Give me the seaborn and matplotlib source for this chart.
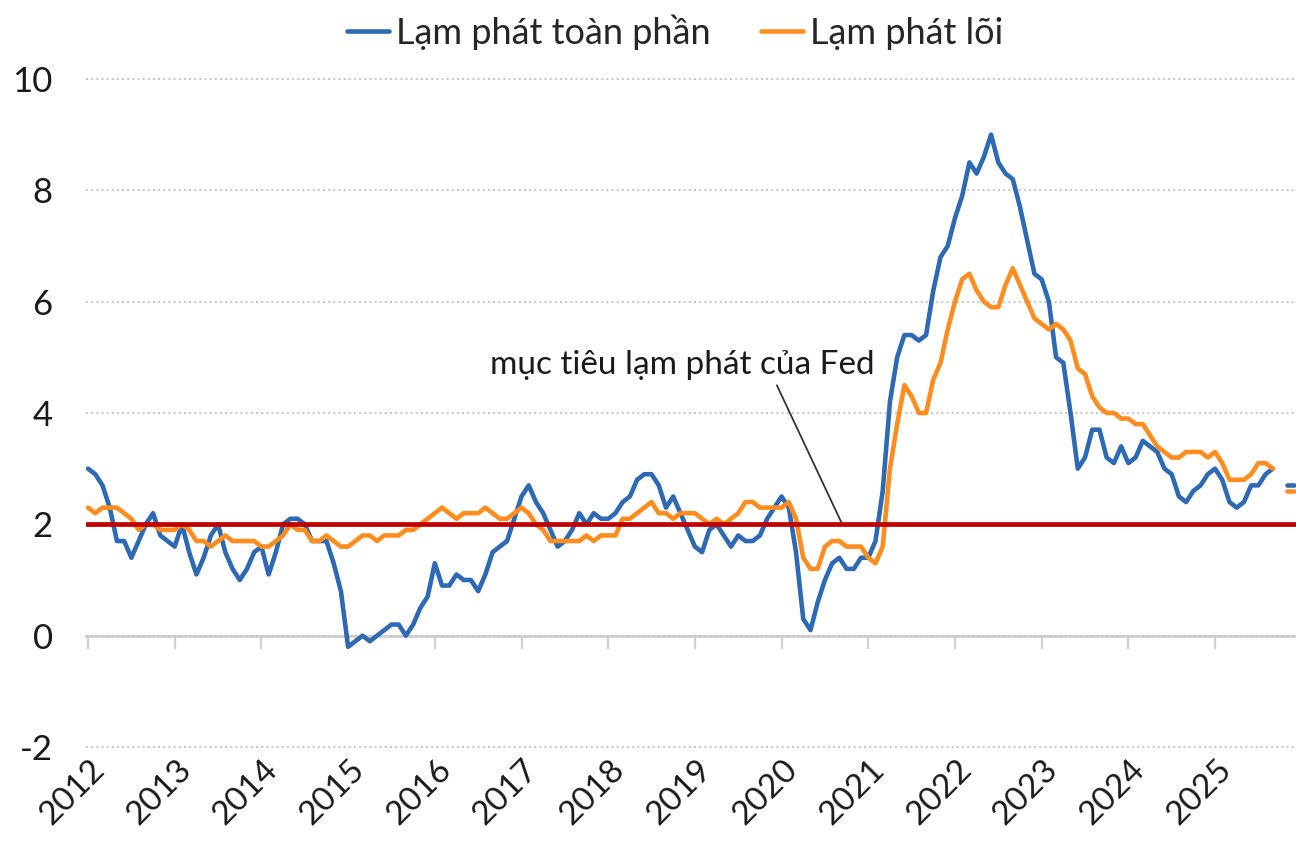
import numpy as np
import pandas as pd
import seaborn as sns
import matplotlib.pyplot as plt
from matplotlib.transforms import ScaledTranslation

# US CPI, % y/y, monthly Jan 2012 - Dec 2025 (Oct 2025 not published)
headline = [
    3.0, 2.9, 2.7, 2.3, 1.7, 1.7, 1.4, 1.7, 2.0, 2.2, 1.8, 1.7,      # 2012
    1.6, 2.0, 1.5, 1.1, 1.4, 1.8, 2.0, 1.5, 1.2, 1.0, 1.2, 1.5,      # 2013
    1.6, 1.1, 1.5, 2.0, 2.1, 2.1, 2.0, 1.7, 1.7, 1.7, 1.3, 0.8,      # 2014
    -0.2, -0.1, 0.0, -0.1, 0.0, 0.1, 0.2, 0.2, 0.0, 0.2, 0.5, 0.7,   # 2015
    1.3, 0.9, 0.9, 1.1, 1.0, 1.0, 0.8, 1.1, 1.5, 1.6, 1.7, 2.1,      # 2016
    2.5, 2.7, 2.4, 2.2, 1.9, 1.6, 1.7, 1.9, 2.2, 2.0, 2.2, 2.1,      # 2017
    2.1, 2.2, 2.4, 2.5, 2.8, 2.9, 2.9, 2.7, 2.3, 2.5, 2.2, 1.9,      # 2018
    1.6, 1.5, 1.9, 2.0, 1.8, 1.6, 1.8, 1.7, 1.7, 1.8, 2.1, 2.3,      # 2019
    2.5, 2.3, 1.5, 0.3, 0.1, 0.6, 1.0, 1.3, 1.4, 1.2, 1.2, 1.4,      # 2020
    1.4, 1.7, 2.6, 4.2, 5.0, 5.4, 5.4, 5.3, 5.4, 6.2, 6.8, 7.0,      # 2021
    7.5, 7.9, 8.5, 8.3, 8.6, 9.0, 8.5, 8.3, 8.2, 7.7, 7.1, 6.5,      # 2022
    6.4, 6.0, 5.0, 4.9, 4.0, 3.0, 3.2, 3.7, 3.7, 3.2, 3.1, 3.4,      # 2023
    3.1, 3.2, 3.5, 3.4, 3.3, 3.0, 2.9, 2.5, 2.4, 2.6, 2.7, 2.9,      # 2024
    3.0, 2.8, 2.4, 2.3, 2.4, 2.7, 2.7, 2.9, 3.0, np.nan, 2.7, 2.7,   # 2025
]
core = [
    2.3, 2.2, 2.3, 2.3, 2.3, 2.2, 2.1, 1.9, 2.0, 2.0, 1.9, 1.9,
    1.9, 2.0, 1.9, 1.7, 1.7, 1.6, 1.7, 1.8, 1.7, 1.7, 1.7, 1.7,
    1.6, 1.6, 1.7, 1.8, 2.0, 1.9, 1.9, 1.7, 1.7, 1.8, 1.7, 1.6,
    1.6, 1.7, 1.8, 1.8, 1.7, 1.8, 1.8, 1.8, 1.9, 1.9, 2.0, 2.1,
    2.2, 2.3, 2.2, 2.1, 2.2, 2.2, 2.2, 2.3, 2.2, 2.1, 2.1, 2.2,
    2.3, 2.2, 2.0, 1.9, 1.7, 1.7, 1.7, 1.7, 1.7, 1.8, 1.7, 1.8,
    1.8, 1.8, 2.1, 2.1, 2.2, 2.3, 2.4, 2.2, 2.2, 2.1, 2.2, 2.2,
    2.2, 2.1, 2.0, 2.1, 2.0, 2.1, 2.2, 2.4, 2.4, 2.3, 2.3, 2.3,
    2.3, 2.4, 2.1, 1.4, 1.2, 1.2, 1.6, 1.7, 1.7, 1.6, 1.6, 1.6,
    1.4, 1.3, 1.6, 3.0, 3.8, 4.5, 4.3, 4.0, 4.0, 4.6, 4.9, 5.5,
    6.0, 6.4, 6.5, 6.2, 6.0, 5.9, 5.9, 6.3, 6.6, 6.3, 6.0, 5.7,
    5.6, 5.5, 5.6, 5.5, 5.3, 4.8, 4.7, 4.3, 4.1, 4.0, 4.0, 3.9,
    3.9, 3.8, 3.8, 3.6, 3.4, 3.3, 3.2, 3.2, 3.3, 3.3, 3.3, 3.2,
    3.3, 3.1, 2.8, 2.8, 2.8, 2.9, 3.1, 3.1, 3.0, np.nan, 2.6, 2.6,
]
series_names = ['Lạm phát toàn phần', 'Lạm phát lõi']
years = list(range(2012, 2026))
y_ticks = [-2, 0, 2, 4, 6, 8, 10]
fed_target = 2
target_label = 'mục tiêu lạm phát của Fed'

sns.set_style('white')
plt.rcParams['font.family'] = ['Lato', 'DejaVu Sans']
plt.rcParams['axes.unicode_minus'] = False

months = pd.date_range('2012-01-01', '2025-12-01', freq='MS')
df = pd.DataFrame({'t': months.year + (months.month - 1) / 12,
                   series_names[0]: headline, series_names[1]: core})
# break the lines where a month is missing
df['segment'] = df[series_names[0]].isna().cumsum()
long = df.melt(id_vars=['t', 'segment'], var_name='series', value_name='value').dropna()

blue, orange, red = '#2E69B4', '#FF8C1E', '#C00000'
ylim = (-2.05, 10.05)

fig = plt.figure(figsize=(12.96, 8.46), dpi=100)
ax = fig.add_axes([0.0664, 0.1137, 0.9336, 0.7963])

sns.lineplot(data=long, x='t', y='value', hue='series', units='segment',
             estimator=None, palette=[blue, orange], linewidth=3.3, ax=ax)
ax.axhline(fed_target, color=red, lw=3.4, zorder=5)

ax.set_xlim(2011.977, 2025.934)
ax.set_ylim(*ylim)
ax.set_yticks(y_ticks)
ax.set_xticks(years)
ax.set_xlabel('')
ax.set_ylabel('')
ax.grid(axis='y', ls=':', color='#c4c4c4', lw=1.4)
for s in ax.spines.values():
    s.set_visible(False)

ax.tick_params(axis='y', length=0, pad=24, labelsize=25, labelcolor='#1a1a1a')
ax.tick_params(axis='x', length=0, pad=3, labelsize=24, labelcolor='#1a1a1a')
for lab in ax.get_xticklabels():
    lab.set_rotation(45)
    lab.set_ha('right')
    lab.set_rotation_mode('anchor')
    lab.set_transform(lab.get_transform() + ScaledTranslation(0.01, 0, fig.dpi_scale_trans))

# zero line with year ticks
sec = ax.secondary_xaxis((0 - ylim[0]) / (ylim[1] - ylim[0]))
sec.set_xticks(years)
sec.tick_params(length=9, width=1.6, color='#d0d0d0', labelbottom=False, direction='out')
sec.spines['bottom'].set_color('#d0d0d0')
sec.spines['bottom'].set_linewidth(2)

ax.annotate(target_label, xy=(2020.70, fed_target), xytext=(2018.85, 4.87),
            ha='center', va='center', fontsize=24, color='#1a1a1a',
            arrowprops=dict(arrowstyle='-', color='#333333', lw=1.3,
                            relpos=(0.74, 0.0), shrinkA=2, shrinkB=0))

handles, labels = ax.get_legend_handles_labels()
ax.legend_.remove()
fig.legend(handles, labels, loc='center', bbox_to_anchor=(0.521, 0.962), ncol=2,
           frameon=False, fontsize=26, handlelength=1.15, handletextpad=0.2,
           columnspacing=1.4)

fig.savefig('out.png', dpi=100)
